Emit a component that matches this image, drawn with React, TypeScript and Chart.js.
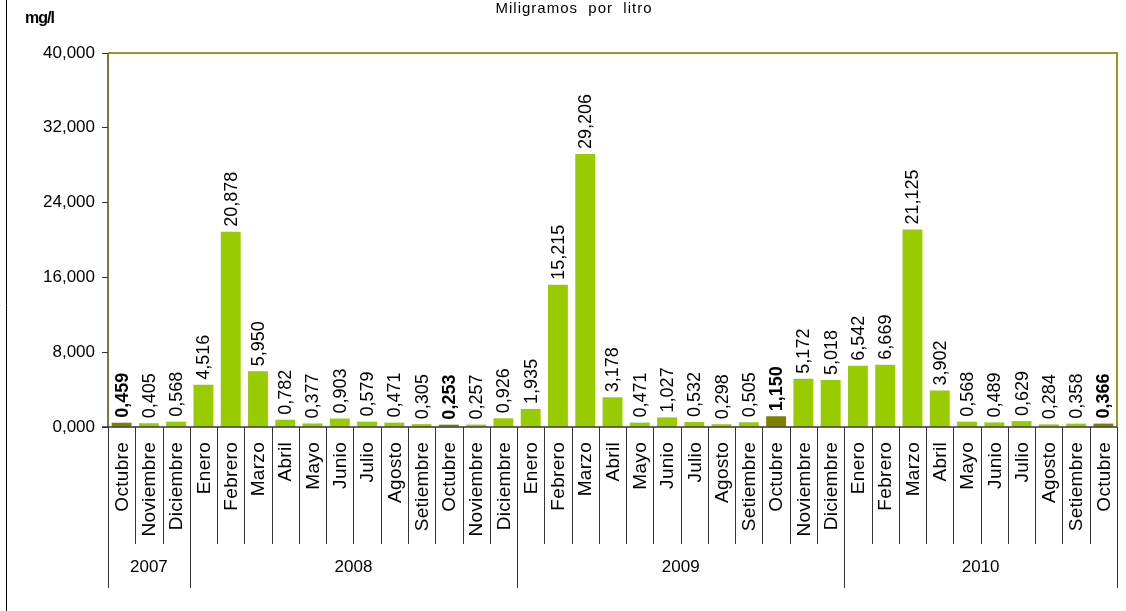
import React, { useEffect, useRef } from "react";
import { Chart, registerables } from "chart.js";

Chart.register(...registerables);

const months = [
  "Octubre", "Noviembre", "Diciembre",
  "Enero", "Febrero", "Marzo", "Abril", "Mayo", "Junio", "Julio", "Agosto", "Setiembre", "Octubre", "Noviembre", "Diciembre",
  "Enero", "Febrero", "Marzo", "Abril", "Mayo", "Junio", "Julio", "Agosto", "Setiembre", "Octubre", "Noviembre", "Diciembre",
  "Enero", "Febrero", "Marzo", "Abril", "Mayo", "Junio", "Julio", "Agosto", "Setiembre", "Octubre",
];

const values = [
  0.459, 0.405, 0.568,
  4.516, 20.878, 5.95, 0.782, 0.377, 0.903, 0.579, 0.471, 0.305, 0.253, 0.257, 0.926,
  1.935, 15.215, 29.206, 3.178, 0.471, 1.027, 0.532, 0.298, 0.505, 1.15, 5.172, 5.018,
  6.542, 6.669, 21.125, 3.902, 0.568, 0.489, 0.629, 0.284, 0.358, 0.366,
];

const years = ["2007", "2008", "2009", "2010"];
const yearCounts = [3, 12, 12, 10];
const highlighted = [0, 12, 24, 36];
const yTicks = [0, 8, 16, 24, 32, 40];

const title = "Miligramos  por  litro";
const unit = "mg/l";

const GREEN = "#99cc00";
const OLIVE = "#808000";
const FONT = "'Liberation Sans', Arial, sans-serif";

const fmt = (v: number) => v.toFixed(3).replace(".", ",");

export default function App() {
  const ref = useRef<HTMLCanvasElement | null>(null);

  useEffect(() => {
    document.body.style.margin = "0";
    const canvas = ref.current!;
    const overlay = {
      id: "overlay",
      afterDraw(chart: any) {
        const ctx = chart.ctx as CanvasRenderingContext2D;
        const area = chart.chartArea;
        const xs = chart.scales.x;
        const ys = chart.scales.y;
        const n = values.length;
        const w = (area.right - area.left) / n;
        ctx.save();

        // outer left frame line
        ctx.strokeStyle = "#000";
        ctx.lineWidth = 1;
        ctx.beginPath();
        ctx.moveTo(6.5, 0);
        ctx.lineTo(6.5, 611);
        ctx.stroke();

        // top and right plot border
        ctx.strokeStyle = "#9a9a22";
        ctx.lineWidth = 2;
        ctx.beginPath();
        ctx.moveTo(area.left, area.top);
        ctx.lineTo(area.right, area.top);
        ctx.lineTo(area.right, area.bottom);
        ctx.stroke();

        // left axis
        ctx.strokeStyle = "#4d4d00";
        ctx.lineWidth = 1.5;
        ctx.beginPath();
        ctx.moveTo(area.left, area.top);
        ctx.lineTo(area.left, area.bottom);
        ctx.stroke();

        // bottom axis
        ctx.strokeStyle = "#333";
        ctx.lineWidth = 1.5;
        ctx.beginPath();
        ctx.moveTo(area.left - 6, area.bottom);
        ctx.lineTo(area.right, area.bottom);
        ctx.stroke();

        // separators
        const yearBounds = new Set<number>();
        let acc = 0;
        yearBounds.add(0);
        yearCounts.forEach((c) => {
          acc += c;
          yearBounds.add(acc);
        });
        ctx.strokeStyle = "#333";
        ctx.lineWidth = 1;
        for (let i = 0; i <= n; i++) {
          const x = Math.round(area.left + i * w) + 0.5;
          const yEnd = yearBounds.has(i) ? 588 : 544;
          ctx.beginPath();
          ctx.moveTo(x, area.bottom);
          ctx.lineTo(x, yEnd);
          ctx.stroke();
        }

        // month labels
        ctx.fillStyle = "#000";
        ctx.font = `19px ${FONT}`;
        (ctx as any).letterSpacing = "0.3px";
        ctx.textAlign = "right";
        ctx.textBaseline = "middle";
        months.forEach((m, i) => {
          const cx = xs.getPixelForValue(i);
          ctx.save();
          ctx.translate(cx + 1, 442);
          ctx.rotate(-Math.PI / 2);
          ctx.fillText(m, 0, 0);
          ctx.restore();
        });

        // year labels
        (ctx as any).letterSpacing = "0px";
        ctx.font = `17px ${FONT}`;
        ctx.textAlign = "center";
        ctx.textBaseline = "middle";
        let start = 0;
        years.forEach((y, k) => {
          const end = start + yearCounts[k];
          const cx = area.left + ((start + end) / 2) * w;
          ctx.fillText(y, cx, 567);
          start = end;
        });

        // data labels
        values.forEach((v, i) => {
          const cx = xs.getPixelForValue(i);
          const top = ys.getPixelForValue(v);
          const bold = highlighted.includes(i);
          ctx.font = `${bold ? "bold " : ""}18px ${FONT}`;
          ctx.textAlign = "left";
          ctx.textBaseline = "middle";
          ctx.save();
          ctx.translate(cx + 1, top - 5);
          ctx.rotate(-Math.PI / 2);
          ctx.fillText(fmt(v), 0, 0);
          ctx.restore();
        });

        // title
        ctx.font = `15px ${FONT}`;
        (ctx as any).letterSpacing = "1px";
        ctx.textAlign = "center";
        ctx.textBaseline = "top";
        ctx.fillText(title, 574, 1);

        // unit
        ctx.font = `bold 16px ${FONT}`;
        (ctx as any).letterSpacing = "-1px";
        ctx.textAlign = "left";
        ctx.textBaseline = "top";
        ctx.fillText(unit, 25, 11);
        ctx.restore();
      },
    };

    const chart = new Chart(canvas, {
      type: "bar",
      data: {
        labels: months,
        datasets: [
          {
            data: values,
            backgroundColor: values.map((_, i) => (highlighted.includes(i) ? OLIVE : GREEN)),
            borderWidth: 0,
            barPercentage: 0.73,
            categoryPercentage: 1,
          },
        ],
      },
      options: {
        responsive: false,
        animation: false,
        layout: { padding: { top: 53, right: 9, bottom: 184, left: 0 } },
        plugins: { legend: { display: false }, tooltip: { enabled: false }, title: { display: false } },
        scales: {
          x: { display: false },
          y: {
            min: 0,
            max: 40,
            afterFit: (s: any) => {
              s.width = 108;
            },
            afterBuildTicks: (s: any) => {
              s.ticks = yTicks.map((v) => ({ value: v }));
            },
            border: { display: false },
            grid: { drawOnChartArea: false, tickLength: 6, color: "#333", lineWidth: 1 },
            ticks: {
              color: "#000",
              padding: 7,
              font: { family: FONT, size: 17 },
              callback: (v: any) => fmt(Number(v)),
            },
          },
        },
      },
      plugins: [overlay],
    });
    return () => chart.destroy();
  }, []);

  return (
    <div style={{ position: "fixed", left: 0, top: 0, width: 1126, height: 611, background: "#fff" }}>
      <canvas ref={ref} width={1126} height={611} style={{ display: "block" }} />
    </div>
  );
}
